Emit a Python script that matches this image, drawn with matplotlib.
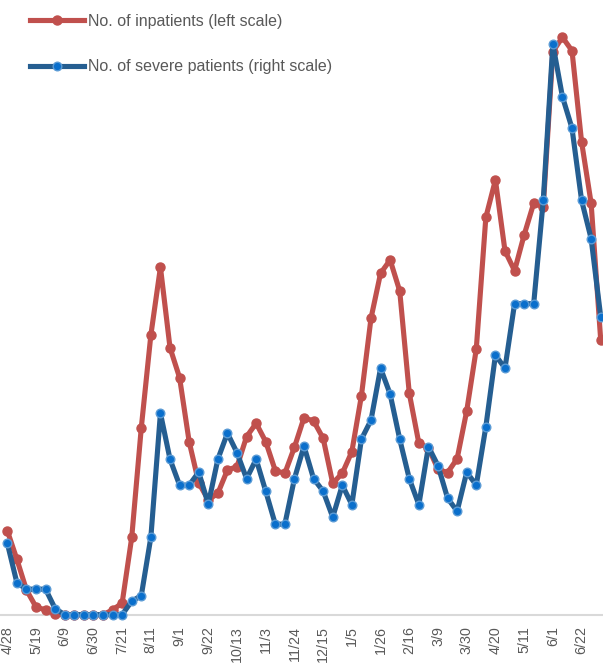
import matplotlib
matplotlib.use("Agg")
import matplotlib.pyplot as plt
import numpy as np

plt.rcParams['font.family'] = ['Liberation Sans', 'DejaVu Sans']

# Weekly data starting 4/28 (one point per week)
inpatients = [1680, 1108, 494, 154, 94, 14, 0, 0, 0, 0, 0, 94, 234,
              1544, 3740, 5594, 6948, 5340, 4740, 3460, 2634, 2294, 2428,
              2894, 2960, 3560, 3828, 3460, 2880, 2828, 3348, 3940, 3874,
              3528, 2628, 2828, 3260, 4380, 5928, 6828, 7094, 6474, 4428,
              3428, 3334, 2908, 2840, 3120, 4074, 5314, 7948, 8694, 7274,
              6880, 7594, 8228, 8160, 11260, 11548, 11280, 9460, 8228, 5494]
severe = [143, 64, 51, 51, 51, 12, 0, 0, 0, 0, 0, 0, 0,
          27, 38, 155, 403, 311, 259, 259, 285, 221, 311, 363, 324, 272,
          311, 247, 181, 181, 272, 337, 272, 247, 195, 259, 220, 351, 389,
          493, 441, 351, 272, 220, 336, 298, 233, 207, 285, 259, 376, 519,
          493, 622, 622, 622, 829, 1141, 1036, 973, 829, 752, 596]
tick_labels = ["4/28", "5/19", "6/9", "6/30", "7/21", "8/11", "9/1", "9/22",
               "10/13", "11/3", "11/24", "12/15", "1/5", "1/26", "2/16", "3/9",
               "3/30", "4/20", "5/11", "6/1", "6/22"]
label_inp = "No. of inpatients (left scale)"
label_sev = "No. of severe patients (right scale)"

x = np.arange(len(inpatients))

fig = plt.figure(figsize=(6.03, 6.63), dpi=100)
ax = fig.add_axes([0, 0.0729, 1, 0.8819])
ax2 = ax.twinx()

red = '#C0504D'
blue_line = '#255E91'
blue_face = '#0A6FCC'
blue_edge = '#5B9BD5'

l1, = ax.plot(x, inpatients, color=red, lw=3.7, marker='o', ms=6.5,
              mfc=red, mec=red, clip_on=False, zorder=3)
l2, = ax2.plot(x, severe, color=blue_line, lw=3.7, marker='o', ms=6.2,
               mfc=blue_face, mec=blue_edge, mew=1.0, clip_on=False, zorder=3)

ax.set_ylim(0, 11694)
ax2.set_ylim(0, 1169.4)
ax.set_xlim(-0.763, 62.24)

ax.set_xticks(x[::3])
ax.set_xticklabels(tick_labels, rotation=90, fontsize=10.3, color='#595959')
ax.tick_params(axis='x', length=0, pad=8)
ax.set_yticks([])
ax2.set_yticks([])
for s in ['top', 'left', 'right']:
    ax.spines[s].set_visible(False)
    ax2.spines[s].set_visible(False)
ax2.spines['bottom'].set_visible(False)
ax.spines['bottom'].set_color('#D9D9D9')
ax.spines['bottom'].set_linewidth(1.5)
ax.patch.set_visible(False)

leg = ax2.legend([l1, l2], [label_inp, label_sev], loc='upper left',
                 bbox_to_anchor=(30 / 603, 1 - 14 / 663),
                 bbox_transform=fig.transFigure, frameon=False,
                 fontsize=11.5, handlelength=3.4, handletextpad=0.2,
                 labelspacing=1.9, borderpad=0, borderaxespad=0)
for t in leg.get_texts():
    t.set_color('#595959')

fig.savefig('out.png', dpi=100)
